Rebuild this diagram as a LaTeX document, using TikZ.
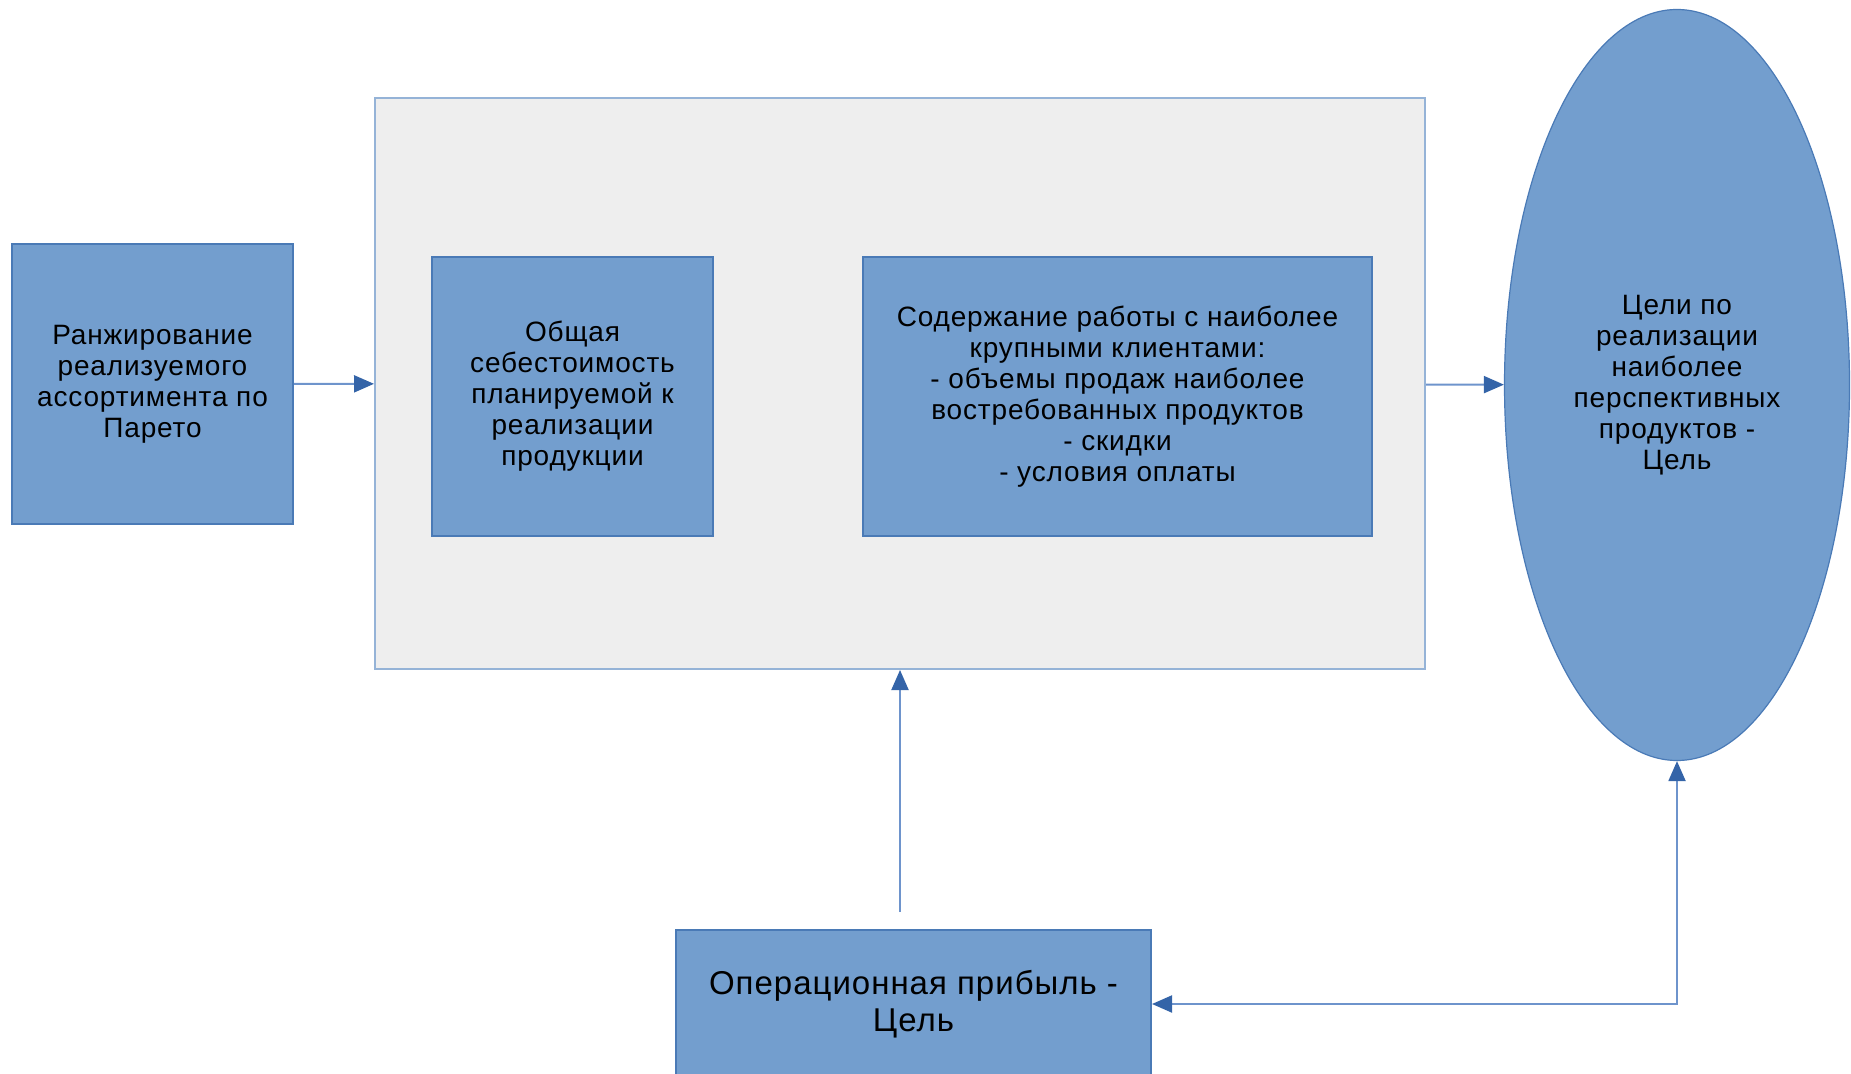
\documentclass[tikz,border=0pt]{standalone}
\usepackage{fontspec}
\setmainfont[LetterSpace=3]{Liberation Sans}
\usetikzlibrary{arrows.meta,shapes.geometric}
\definecolor{boxfill}{RGB}{115,158,206}
\definecolor{boxline}{RGB}{74,122,182}
\definecolor{framefill}{RGB}{238,238,238}
\definecolor{frameline}{RGB}{149,179,215}
\definecolor{lineblue}{RGB}{110,148,204}
\definecolor{arrowblue}{RGB}{52,100,168}
\begin{document}
\begin{tikzpicture}[x=0.5pt, y=-0.5pt, every node/.style={font=\fontsize{14}{15.5}\selectfont, align=center, inner sep=0pt}, >={Triangle[length=10pt,width=8.5pt,color=arrowblue]}, block/.style={rectangle, draw=boxline, line width=1pt, fill=boxfill}, conn/.style={draw=lineblue, line width=1pt, ->}]
	\useasboundingbox (0,0) rectangle (1851,1074);
	\node[rectangle, draw=frameline, fill=framefill, line width=1pt, minimum width=525pt, minimum height=285.5pt] (frame) at (900,383.5) {};
	\node[block, minimum width=140.5pt, minimum height=139.5pt] (rank) at (152.5,384) {Ранжирование\\реализуемого\\ассортимента по\\Парето};
	\node[block, minimum width=140.5pt, minimum height=139.5pt] (cost) at (572.5,396.5) {Общая\\себестоимость\\планируемой к\\реализации\\продукции};
	\node[block, minimum width=254.5pt, minimum height=139.5pt] (clients) at (1117.5,396.5) {Содержание работы с наиболее\\крупными клиентами:\\- объемы продаж наиболее\\востребованных продуктов\\- скидки\\- условия оплаты};
	\node[ellipse, draw=boxline, line width=0.6pt, fill=boxfill, minimum width=172.5pt, minimum height=375.5pt] (goals) at (1677,385) {Цели по\\реализации\\наиболее\\перспективных\\продуктов -\\Цель};
	\node[block, font=\fontsize{16.5}{18.3}\selectfont, minimum width=237.5pt, minimum height=74pt] (profit) at (913.5,1004) {Операционная прибыль -\\Цель};
	\draw[conn] (rank) -- (frame);
	\draw[conn] (frame) -- (goals);
	\draw[conn] ([yshift=8.5pt]profit.north -| frame.south) -- (frame.south);
	\draw[conn, <->] (goals.south) |- (profit.east);
\end{tikzpicture}
\end{document}
